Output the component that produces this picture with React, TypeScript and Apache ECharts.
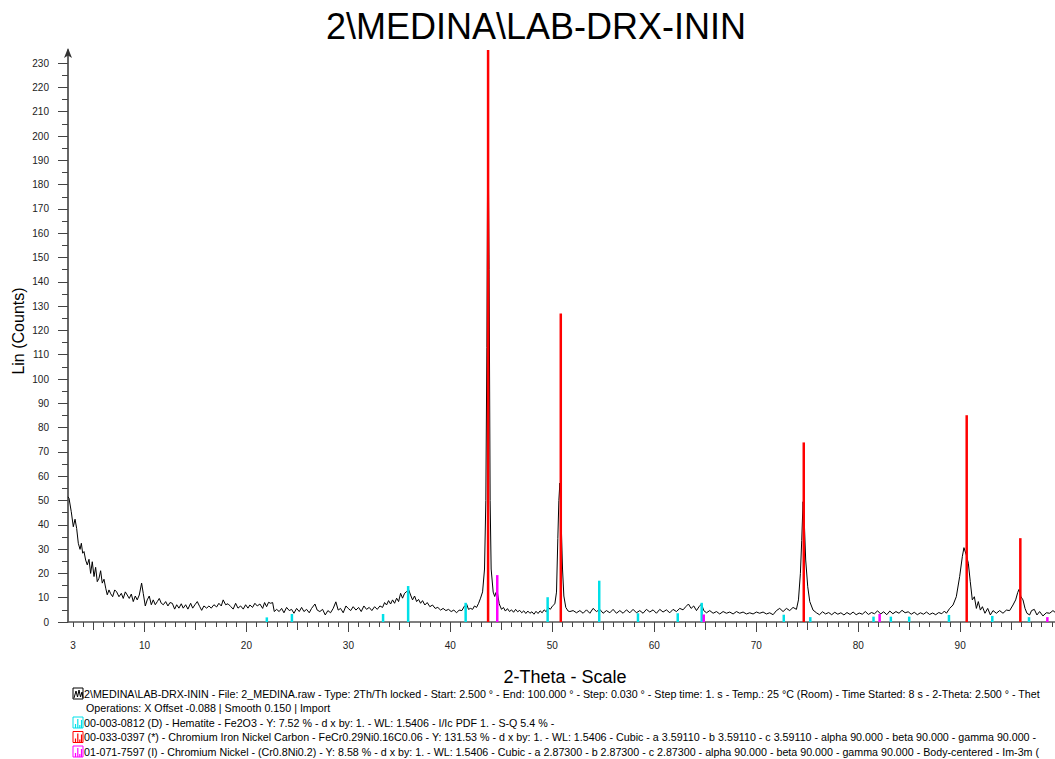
import React, { useEffect, useRef } from "react";
import * as echarts from "echarts";

// ---- Data ----
const titleText = "2\\MEDINA\\LAB-DRX-ININ";
const xLabelValues = [3, 10, 20, 30, 40, 50, 60, 70, 80, 90];
const yLabelValues = [0, 10, 20, 30, 40, 50, 60, 70, 80, 90, 100, 110, 120, 130, 140, 150, 160, 170, 180, 190, 200, 210, 220, 230];

const scanTheta = [
  2.5, 2.6, 2.82, 3.02, 3.19, 3.35, 3.51, 3.68, 3.81, 3.94, 4.07, 4.23, 4.39, 4.56, 4.72, 4.88, 5.05, 5.21, 5.37, 5.54,
  5.7, 5.86, 6.03, 6.2, 6.35, 6.52, 6.69, 6.88, 7.08, 7.27, 7.5, 7.73, 7.92, 8.12, 8.31, 8.51, 8.71, 8.9, 9.1, 9.29,
  9.49, 9.72, 9.88, 10.08, 10.27, 10.47, 10.67, 10.86, 11.06, 11.26, 11.45, 11.65, 11.85, 12.08, 12.3, 12.5, 12.73, 12.96, 13.16, 13.38,
  13.61, 13.8, 14.04, 14.26, 14.53, 14.73, 14.95, 15.18, 15.41, 15.61, 15.83, 16.1, 16.32, 16.55, 16.81, 17.08, 17.3, 17.53, 17.72, 17.96,
  18.19, 18.45, 18.7, 18.94, 19.17, 19.43, 19.69, 19.92, 20.15, 20.34, 20.6, 20.83, 21.06, 21.32, 21.59, 21.78, 21.98, 22.17, 22.37, 22.57,
  22.73, 22.96, 23.21, 23.45, 23.68, 23.94, 24.2, 24.43, 24.66, 24.92, 25.18, 25.41, 25.64, 25.9, 26.16, 26.39, 26.72, 26.94, 27.2, 27.47,
  27.73, 27.99, 28.25, 28.51, 28.77, 29.0, 29.23, 29.49, 29.76, 29.98, 30.22, 30.47, 30.74, 31.0, 31.26, 31.52, 31.78, 32.04, 32.3, 32.57,
  32.83, 33.09, 33.35, 33.55, 33.74, 33.94, 34.14, 34.33, 34.53, 34.73, 34.92, 35.12, 35.31, 35.51, 35.71, 35.9, 36.1, 36.29, 36.49, 36.69,
  36.88, 37.08, 37.27, 37.5, 37.73, 37.99, 38.25, 38.51, 38.77, 39.04, 39.29, 39.56, 39.82, 40.08, 40.34, 40.61, 40.86, 41.13, 41.39, 41.59,
  41.78, 41.98, 42.18, 42.37, 42.57, 42.77, 42.96, 43.16, 43.35, 43.48, 43.58, 43.68, 43.8, 43.9, 44.0, 44.2, 44.35, 44.46, 44.59, 44.79,
  45.02, 45.2, 45.4, 45.6, 45.8, 46.0, 46.2, 46.4, 46.6, 46.8, 47.0, 47.2, 47.4, 47.6, 47.8, 48.0, 48.2, 48.4, 48.6, 48.8,
  49.0, 49.2, 49.4, 49.6, 49.8, 50.0, 50.25, 50.41, 50.54, 50.64, 50.74, 50.86, 51.0, 51.13, 51.32, 51.55, 51.72, 52.04, 52.37, 52.7,
  53.02, 53.35, 53.68, 54.0, 54.33, 54.66, 54.98, 55.31, 55.64, 55.96, 56.29, 56.62, 56.94, 57.27, 57.6, 57.92, 58.25, 58.58, 58.9, 59.23,
  59.56, 59.88, 60.21, 60.54, 60.86, 61.19, 61.52, 61.84, 62.17, 62.5, 62.82, 63.09, 63.35, 63.61, 63.87, 64.14, 64.39, 64.63, 64.85, 65.12,
  65.44, 65.77, 66.1, 66.42, 66.75, 67.08, 67.4, 67.73, 68.06, 68.38, 68.71, 69.04, 69.36, 69.69, 70.02, 70.34, 70.67, 71.0, 71.32, 71.65,
  71.98, 72.3, 72.63, 72.96, 73.28, 73.61, 73.94, 74.14, 74.33, 74.46, 74.59, 74.73, 74.85, 75.05, 75.25, 75.57, 75.9, 76.2, 76.5, 76.8,
  77.1, 77.4, 77.7, 78.0, 78.3, 78.6, 78.9, 79.2, 79.5, 79.8, 80.1, 80.4, 80.7, 81.0, 81.3, 81.6, 81.9, 82.2, 82.5, 82.8,
  83.1, 83.4, 83.7, 84.0, 84.3, 84.6, 84.9, 85.2, 85.5, 85.8, 86.1, 86.4, 86.7, 87.0, 87.3, 87.6, 87.9, 88.2, 88.45, 88.65,
  88.97, 89.3, 89.62, 89.95, 90.21, 90.37, 90.6, 90.8, 90.99, 91.19, 91.39, 91.59, 91.78, 91.98, 92.18, 92.43, 92.7, 92.96, 93.22, 93.55,
  93.87, 94.2, 94.53, 94.85, 95.18, 95.44, 95.64, 95.77, 95.96, 96.16, 96.36, 96.55, 96.81, 97.0, 97.27, 97.53, 97.79, 98.12, 98.45, 98.78,
  99.1, 99.3,
];

const scanCounts = [
  51.5, 50.9, 45.4, 39.2, 42.3, 38.5, 32.4, 29.9, 32.4, 28.3, 29.0, 25.5, 23.5, 25.8, 20.0, 24.8, 18.7, 22.5, 16.6, 18.0,
  21.1, 16.0, 17.6, 13.9, 11.2, 13.2, 11.6, 10.4, 13.2, 12.4, 10.4, 11.8, 9.7, 12.4, 11.1, 9.7, 11.5, 8.4, 10.7, 9.1,
  11.1, 16.0, 11.8, 6.6, 9.1, 10.7, 7.1, 9.1, 7.1, 8.4, 9.7, 7.7, 7.1, 8.4, 6.6, 8.0, 7.7, 5.3, 7.1, 5.7,
  7.5, 5.7, 7.1, 5.3, 7.7, 5.7, 7.1, 8.4, 6.4, 4.8, 6.6, 5.7, 6.6, 5.7, 7.1, 6.2, 7.7, 6.6, 9.1, 7.1,
  7.5, 6.4, 5.3, 7.7, 5.7, 6.6, 5.3, 7.1, 5.7, 7.0, 6.0, 7.7, 6.6, 7.4, 5.6, 8.0, 6.3, 8.1, 7.7, 8.0,
  4.3, 5.2, 4.3, 5.6, 3.8, 6.0, 4.7, 5.2, 3.6, 5.6, 4.3, 6.0, 4.3, 5.2, 3.8, 5.6, 7.4, 4.9, 4.3, 5.2,
  2.9, 4.7, 3.8, 5.6, 8.3, 4.9, 5.6, 3.8, 6.6, 5.6, 4.7, 6.3, 4.9, 6.0, 4.3, 6.6, 5.2, 6.0, 4.7, 6.3,
  5.2, 6.6, 6.0, 8.0, 7.0, 8.8, 7.4, 9.1, 7.7, 9.8, 8.4, 11.8, 9.8, 11.8, 12.5, 13.4, 11.1, 9.1, 10.7, 8.4,
  9.3, 7.7, 8.8, 7.0, 8.0, 6.3, 7.0, 5.6, 6.0, 4.9, 5.6, 4.7, 5.2, 4.3, 4.9, 3.8, 4.9, 4.7, 6.6, 7.4,
  5.2, 5.6, 5.2, 6.6, 6.0, 7.7, 9.8, 12.4, 21.8, 50, 113, 214, 145, 50, 21.8, 12.3, 10.5, 12.0, 12.8, 7.5,
  5.2, 6.0, 4.5, 5.5, 4.3, 5.0, 4.0, 5.2, 4.2, 4.8, 3.8, 4.6, 3.5, 4.5, 3.6, 4.2, 3.2, 4.4, 3.5, 4.6,
  3.8, 5.0, 4.2, 6.0, 5.2, 6.5, 7.5, 12.3, 34.4, 50, 57.2, 42.4, 21.8, 10.7, 6.0, 4.5, 4.3, 4.7, 3.8, 4.7,
  3.6, 5.0, 3.6, 5.6, 4.3, 5.2, 3.6, 4.7, 3.8, 5.2, 3.6, 4.7, 3.6, 5.0, 3.8, 5.2, 3.8, 4.7, 3.6, 5.2,
  4.1, 5.0, 3.6, 5.2, 4.1, 5.0, 3.8, 5.2, 4.3, 5.6, 5.0, 6.3, 7.4, 5.6, 6.6, 4.7, 6.3, 7.4, 4.7, 3.8,
  4.7, 3.6, 4.3, 3.3, 4.3, 3.6, 4.1, 3.3, 4.3, 3.6, 4.1, 3.3, 3.8, 3.3, 4.1, 3.6, 4.1, 3.3, 3.8, 3.0,
  4.7, 5.6, 4.3, 5.6, 4.7, 6.0, 5.2, 9.1, 20.0, 33.6, 49.5, 39.2, 25.5, 14.5, 8.4, 4.9, 3.8, 3.0, 4.2, 3.3,
  3.9, 3.0, 4.0, 3.2, 3.8, 2.9, 3.9, 3.1, 4.1, 3.0, 3.7, 3.2, 4.3, 3.1, 3.9, 3.4, 4.6, 3.3, 4.2, 3.0,
  4.5, 3.4, 4.3, 3.6, 4.8, 3.8, 4.2, 3.2, 4.0, 3.0, 3.8, 3.2, 4.1, 3.1, 3.7, 3.0, 3.9, 3.4, 4.5, 3.6,
  5.6, 7.0, 10.4, 18.7, 26.9, 30.6, 27.6, 24.2, 16.6, 9.1, 10.4, 5.6, 8.4, 4.9, 6.3, 3.6, 5.6, 2.9, 4.7, 3.6,
  4.7, 3.6, 4.9, 4.7, 7.0, 9.1, 12.1, 13.4, 10.4, 9.1, 5.6, 3.6, 2.9, 4.7, 5.2, 2.9, 4.3, 2.5, 3.8, 3.6,
  4.7, 4.0,
];

// Reference patterns (stick positions / heights)
const hematiteTheta = [22.0, 24.46, 33.4, 35.86, 41.5, 49.54, 54.6, 58.4, 62.3, 64.65, 72.7, 75.3, 81.5, 83.2, 85.0, 88.9, 93.15, 96.75];
const hematiteHeight = [1.9, 3.3, 3.3, 14.8, 7.9, 10.2, 17.0, 3.6, 3.6, 7.9, 3.0, 2.0, 2.2, 2.2, 2.2, 2.9, 2.5, 2.0];
const fecrniTheta = [43.7, 50.83, 74.66, 90.64, 95.9];
const fecrniHeight = [235.4, 127, 73.9, 85.1, 34.5];
const crniTheta = [44.6, 64.85, 82.1, 98.55];
const crniHeight = [19.3, 3.1, 3.3, 2.0];

const legendLines = [
  "2\\MEDINA\\LAB-DRX-ININ - File: 2_MEDINA.raw - Type: 2Th/Th locked - Start: 2.500 ° - End: 100.000 ° - Step: 0.030 ° - Step time: 1. s - Temp.: 25 °C (Room) - Time Started: 8 s - 2-Theta: 2.500 ° - Thet",
  "Operations: X Offset -0.088 | Smooth 0.150 | Import",
  "00-003-0812 (D) - Hematite - Fe2O3 - Y: 7.52 % - d x by: 1. - WL: 1.5406 - I/Ic PDF 1. - S-Q 5.4 % -",
  "00-033-0397 (*) - Chromium Iron Nickel Carbon - FeCr0.29Ni0.16C0.06 - Y: 131.53 % - d x by: 1. - WL: 1.5406 - Cubic - a 3.59110 - b 3.59110 - c 3.59110 - alpha 90.000 - beta 90.000 - gamma 90.000 -",
  "01-071-7597 (I) - Chromium Nickel - (Cr0.8Ni0.2) - Y: 8.58 % - d x by: 1. - WL: 1.5406 - Cubic - a 2.87300 - b 2.87300 - c 2.87300 - alpha 90.000 - beta 90.000 - gamma 90.000 - Body-centered - Im-3m (",
];
const phaseColors = ["#00e0e8", "#ff0000", "#ff00ff"];

const X_MIN = 2.5;
const X_MAX = 99.3;
const Y_MAX = 235.4;
const FONT = '"Liberation Sans", Arial, Helvetica, sans-serif';

function range(a: number, b: number, step: number, skip?: (v: number) => boolean) {
  const out: number[] = [];
  for (let v = a; v <= b + 1e-9; v += step) {
    if (!skip || !skip(v)) out.push(v);
  }
  return out;
}

function stickSeries(xs: number[], hs: number[], color: string, width: number) {
  return {
    type: "custom",
    xAxisIndex: 0,
    yAxisIndex: 0,
    clip: true,
    z: 5,
    silent: true,
    encode: { x: 0, y: 1 },
    data: xs.map((x, i) => [x, hs[i]]),
    renderItem: (params: any, api: any) => {
      const p0 = api.coord([api.value(0), 0]);
      const p1 = api.coord([api.value(0), api.value(1)]);
      return {
        type: "rect",
        shape: { x: p0[0] - width / 2, y: p1[1], width: width, height: p0[1] - p1[1] },
        style: { fill: color },
      };
    },
  };
}

function textEl(text: string, x: number, y: number, size: number, align = "left", rotation = 0) {
  return {
    type: "text",
    x,
    y,
    rotation,
    silent: true,
    style: {
      text,
      fill: "#000",
      font: `${size}px ${FONT}`,
      align,
      textAlign: align,
      verticalAlign: "middle",
      textVerticalAlign: "middle",
    },
  };
}

function legendIcon(i: number, yc: number) {
  const x0 = 73, x1 = 83, y0 = yc - 5.5, y1 = yc + 5.5;
  if (i === 0) {
    return [
      { type: "rect", shape: { x: x0, y: y0, width: x1 - x0, height: y1 - y0 }, style: { fill: "none", stroke: "#000", lineWidth: 1 } },
      {
        type: "polyline",
        shape: { points: [[74, y1 - 1], [76, y0 + 3], [77.5, y1 - 2], [79, y0 + 2], [80.5, y1 - 2], [82, y0 + 4], [83, y1 - 1]] },
        style: { stroke: "#000", lineWidth: 1, fill: "none" },
      },
    ];
  }
  const c = phaseColors[i - 2];
  return [
    { type: "rect", shape: { x: x0, y: y0, width: x1 - x0, height: y1 - y0 }, style: { fill: "none", stroke: c, lineWidth: 1 } },
    { type: "line", shape: { x1: 75.5, y1: y1, x2: 75.5, y2: y1 - 4 }, style: { stroke: c, lineWidth: 1.2 } },
    { type: "line", shape: { x1: 77.8, y1: y1, x2: 77.8, y2: y0 + 2 }, style: { stroke: c, lineWidth: 1.2 } },
    { type: "line", shape: { x1: 79.8, y1: y1, x2: 79.8, y2: y1 - 3 }, style: { stroke: c, lineWidth: 1.2 } },
    { type: "line", shape: { x1: 81.5, y1: y1, x2: 81.5, y2: y0 + 3 }, style: { stroke: c, lineWidth: 1.2 } },
  ];
}

function baseXAxis(tickVals: number[], len: number, main: boolean) {
  return {
    type: "value",
    position: "bottom",
    gridIndex: 0,
    min: X_MIN,
    max: X_MAX,
    offset: 0,
    splitLine: { show: false },
    axisLine: { show: main, onZero: false, lineStyle: { color: "#555", width: 1.5 } },
    axisTick: { show: true, inside: false, length: len, customValues: tickVals, lineStyle: { color: "#444", width: 1 } },
    axisLabel: main
      ? { show: true, customValues: xLabelValues, margin: 18, fontSize: 10, fontFamily: FONT, color: "#222" }
      : { show: false },
  };
}

function baseYAxis(tickVals: number[], len: number, main: boolean) {
  return {
    type: "value",
    position: "left",
    gridIndex: 0,
    min: 0,
    max: Y_MAX,
    offset: 0,
    splitLine: { show: false },
    axisLine: main
      ? { show: true, onZero: false, symbol: ["none", "arrow"], symbolSize: [6, 10], symbolOffset: [0, 2], lineStyle: { color: "#333", width: 1.5 } }
      : { show: false, onZero: false },
    axisTick: { show: true, inside: false, length: len, customValues: tickVals, lineStyle: { color: "#444", width: 1 } },
    axisLabel: main
      ? { show: true, customValues: yLabelValues, margin: 19, fontSize: 10, fontFamily: FONT, color: "#222" }
      : { show: false },
  };
}

export default function App() {
  const ref = useRef<HTMLDivElement>(null);

  useEffect(() => {
    document.body.style.margin = "0";
    if (!ref.current) return;
    const chart = echarts.init(ref.current, null, { renderer: "svg" });

    const xMajor = range(10, 90, 10);
    const xMid = range(5, 95, 10);
    const xMinor = range(3, 99, 1, (v) => Math.round(v) % 5 === 0);
    const yMajor = yLabelValues.slice();
    const yMinor = range(5, 225, 10);

    const graphics: any[] = [
      textEl(titleText, 536, 26, 36, "center"),
      textEl("Lin (Counts)", 18, 331, 16, "center", Math.PI / 2),
      textEl("2-Theta - Scale", 565, 677, 18, "center"),
    ];
    const lineY = [693.5, 708, 722.5, 737, 751.5];
    legendLines.forEach((t, i) => {
      graphics.push(textEl(t, i === 1 ? 86 : 84, lineY[i], 10.7, "left"));
      if (i !== 1) graphics.push(...legendIcon(i, lineY[i]));
    });

    chart.setOption({
      animation: false,
      backgroundColor: "#fff",
      grid: { left: 68, right: 0, top: 50, bottom: 137, containLabel: false },
      xAxis: [baseXAxis(xMajor, 10, true), baseXAxis(xMid, 8, false), baseXAxis(xMinor, 5, false)],
      yAxis: [baseYAxis(yMajor, 10, true), baseYAxis(yMinor, 6, false)],
      series: [
        {
          type: "line",
          xAxisIndex: 0,
          yAxisIndex: 0,
          data: scanTheta.map((x, i) => [x, scanCounts[i]]),
          showSymbol: false,
          symbol: "none",
          silent: true,
          z: 3,
          lineStyle: { color: "#000", width: 1 },
        },
        stickSeries(hematiteTheta, hematiteHeight, phaseColors[0], 2.5),
        stickSeries(fecrniTheta, fecrniHeight, phaseColors[1], 2.5),
        stickSeries(crniTheta, crniHeight, phaseColors[2], 2.5),
      ],
      graphic: { elements: graphics },
    });

    return () => chart.dispose();
  }, []);

  return <div ref={ref} style={{ position: "absolute", left: 0, top: 0, width: 1055, height: 759 }} />;
}
